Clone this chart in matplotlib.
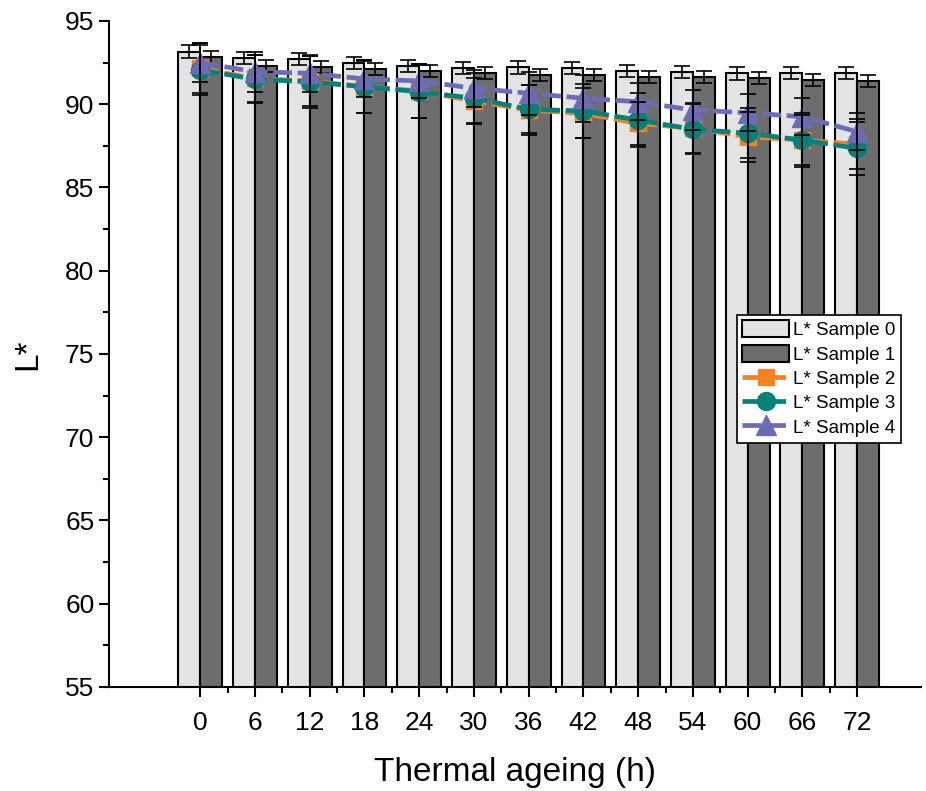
import matplotlib
matplotlib.use("Agg")
import matplotlib.pyplot as plt
import numpy as np
from matplotlib.ticker import MultipleLocator, FixedLocator

plt.rcParams['font.family'] = ['Liberation Sans', 'DejaVu Sans']

hours = [0, 6, 12, 18, 24, 30, 36, 42, 48, 54, 60, 66, 72]
tick_labels = [str(h) for h in hours]

s0 = [93.16, 92.80, 92.72, 92.46, 92.30, 92.18, 92.22, 92.20, 92.02, 91.94, 91.86, 91.88, 91.86]
s0_err = [0.38, 0.36, 0.34, 0.36, 0.36, 0.36, 0.38, 0.36, 0.36, 0.36, 0.38, 0.36, 0.36]
s1 = [92.82, 92.32, 92.24, 92.10, 92.00, 91.90, 91.76, 91.74, 91.62, 91.62, 91.60, 91.46, 91.40]
s1_err = [0.40, 0.36, 0.36, 0.36, 0.36, 0.36, 0.36, 0.36, 0.36, 0.36, 0.36, 0.36, 0.36]

s2 = [92.15, 91.55, 91.40, 91.05, 90.80, 90.20, 89.65, 89.45, 88.85, 88.55, 88.05, 87.85, 87.60]
s2_err = [1.5, 1.4, 1.5, 1.6, 1.6, 1.4, 1.5, 1.5, 1.3, 1.5, 1.5, 1.5, 1.5]
s3 = [92.06, 91.50, 91.35, 91.05, 90.75, 90.36, 89.70, 89.59, 89.05, 88.50, 88.26, 87.85, 87.35]
s3_err = [1.5, 1.45, 1.55, 1.6, 1.6, 1.5, 1.45, 1.6, 1.6, 1.5, 1.5, 1.6, 1.6]
s4 = [92.50, 91.95, 91.86, 91.52, 91.40, 90.96, 90.66, 90.36, 90.15, 89.65, 89.49, 89.25, 88.35]
s4_err = [1.15, 1.2, 1.1, 1.1, 1.0, 1.1, 1.3, 1.4, 1.1, 1.2, 1.1, 1.1, 1.1]

names = ['L* Sample 0', 'L* Sample 1', 'L* Sample 2', 'L* Sample 3', 'L* Sample 4']

fig = plt.figure(figsize=(9.26, 7.91), dpi=100)
ax = fig.add_axes([109/926, 1-687/791, (921-109)/926, (687-21)/791])

x = np.array(hours, dtype=float)
bw = 2.4
b0 = ax.bar(x - bw/2, s0, width=bw, color='#E3E3E3', edgecolor='black', linewidth=1.5, label=names[0], zorder=2)
b1 = ax.bar(x + bw/2, s1, width=bw, color='#6D6D6D', edgecolor='black', linewidth=1.5, label=names[1], zorder=2)
ax.errorbar(x - bw/2, s0, yerr=s0_err, fmt='none', ecolor='black', elinewidth=1.2, capsize=6, capthick=1.2, zorder=3)
ax.errorbar(x + bw/2, s1, yerr=s1_err, fmt='none', ecolor='black', elinewidth=1.2, capsize=6, capthick=1.2, zorder=3)

dash = (0, (4.0, 1.2))
l2, = ax.plot(x, s2, color='#F5821F', lw=3.4, ls=dash, marker='s', ms=11, mec='#F5821F', label=names[2], zorder=4)
l3, = ax.plot(x, s3, color='#00827A', lw=3.4, ls=dash, marker='o', ms=13, mec='#00827A', label=names[3], zorder=5)
l4, = ax.plot(x, s4, color='#6C6BB8', lw=3.4, ls=dash, marker='^', ms=14, mec='#6C6BB8', label=names[4], zorder=6)
for s, e in [(s2, s2_err), (s3, s3_err), (s4, s4_err)]:
    ax.errorbar(x, s, yerr=e, fmt='none', ecolor='black', elinewidth=1.2, capsize=6, capthick=1.2, zorder=7)

ax.set_xlim(-10, 79)
ax.set_ylim(55, 95)
ax.set_xticks(hours)
ax.set_xticklabels(tick_labels)
ax.xaxis.set_minor_locator(FixedLocator([h + 3 for h in hours[:-1]]))
ax.yaxis.set_major_locator(MultipleLocator(5))
ax.yaxis.set_minor_locator(MultipleLocator(2.5))
for sp in ['top', 'right']:
    ax.spines[sp].set_visible(False)
for sp in ['left', 'bottom']:
    ax.spines[sp].set_linewidth(1.5)
ax.tick_params(which='major', direction='out', length=7, width=1.5, labelsize=19)
ax.tick_params(which='minor', direction='out', length=4, width=1.5)
ax.tick_params(axis='x', pad=10)

ax.set_xlabel('Thermal ageing (h)', fontsize=24, labelpad=16)
ax.set_ylabel('L*', fontsize=24, labelpad=16)

leg = ax.legend(handles=[b0, b1, l2, l3, l4], loc='upper left', bbox_to_anchor=(0.773, 0.559), fontsize=13.5,
                frameon=True, fancybox=False, edgecolor='black', framealpha=1,
                handlelength=2.5, handletextpad=0.2, borderpad=0.3, labelspacing=0.3,
                borderaxespad=0, handleheight=1.0)
leg.get_frame().set_linewidth(1.2)

fig.savefig('out.png', dpi=100)
